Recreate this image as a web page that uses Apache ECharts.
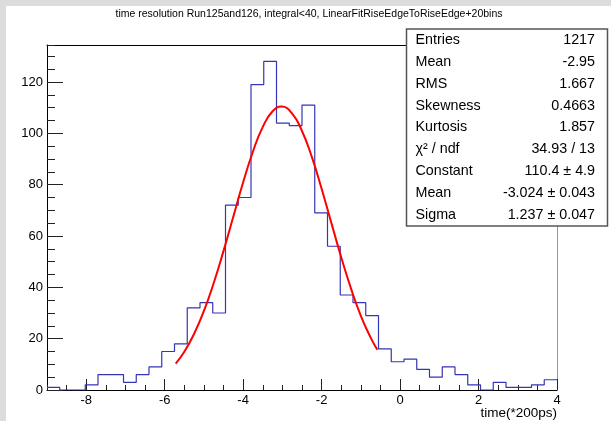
<!DOCTYPE html>
<html><head><meta charset="utf-8">
<script src="https://cdn.jsdelivr.net/npm/echarts@6/dist/echarts.min.js"></script>
<style>html,body{margin:0;padding:0;background:#fff}#c{width:611px;height:421px}</style>
</head><body><div id="c"></div>
<script>
const titleText = 'time resolution Run125and126, integral<40, LinearFitRiseEdgeToRiseEdge+20bins';
const xTitle = 'time(*200ps)';
const xMin = -9, xMax = 4, binWidth = 0.325;
const yMax = 134.4;
const counts = [1,0,0,2,6,6,3,6,9,15,18,32,34,30,72,75,119,128,104,103,111,69,56,37,34,29,16,11,12,8,5,9,6,2,0,3,1,1,2,4];
const fitX = [-5.72,-5.5,-5.25,-5,-4.75,-4.5,-4.25,-4,-3.75,-3.5,-3.25,-3.024,-2.75,-2.5,-2.25,-2,-1.75,-1.5,-1.25,-1,-0.75,-0.58];
const fitY = [10.3,14.9,21.9,30.8,41.7,54.2,67.6,80.9,92.9,102.5,108.6,110.4,107.7,100.9,90.8,78.4,65.0,51.7,39.5,28.9,20.4,15.7];
const statLabels = ['Entries','Mean','RMS','Skewness','Kurtosis','χ² / ndf','Constant','Mean','Sigma'];
const statValues = ['1217','-2.95','1.667','0.4663','1.857','34.93 / 13','110.4 ± 4.9','-3.024 ± 0.043','1.237 ± 0.047'];

const FONT = '"Liberation Sans", Arial, sans-serif';
const histData = counts.map((v, i) => [xMin + i * binWidth, v]);
histData.push([xMax, counts[counts.length - 1]]);
const fitData = fitX.map((x, i) => [x, fitY[i]]);

const chart = echarts.init(document.getElementById('c'), null, {renderer: 'canvas'});

const box = {x: 406.5, y: 29, w: 201, h: 197};
const rowH = box.h / statLabels.length;
const graphics = [
  {type: 'rect', shape: {x: 0, y: 0, width: 611, height: 6}, style: {fill: '#dcdcdc'}, z: 0, silent: true},
  {type: 'rect', shape: {x: 0, y: 0, width: 6, height: 421}, style: {fill: '#dcdcdc'}, z: 0, silent: true},
  {type: 'text', x: 309, y: 14, style: {text: titleText, font: '10.5px ' + FONT, fill: '#000', align: 'center', verticalAlign: 'middle'}, z: 50},
  {type: 'text', x: 557, y: 413, style: {text: xTitle, font: '13.5px ' + FONT, fill: '#000', align: 'right', verticalAlign: 'middle'}, z: 50},
  {type: 'rect', shape: {x: box.x, y: box.y, width: box.w, height: box.h}, style: {fill: '#fff', stroke: '#555', lineWidth: 1.5}, z: 100}
];
statLabels.forEach((lab, i) => {
  const cy = box.y + rowH * (i + 0.5);
  graphics.push({type: 'text', x: box.x + 9, y: cy, style: {text: lab, font: '14.3px ' + FONT, fill: '#000', align: 'left', verticalAlign: 'middle'}, z: 101});
  graphics.push({type: 'text', x: box.x + box.w - 12.5, y: cy, style: {text: statValues[i], font: '14.3px ' + FONT, fill: '#000', align: 'right', verticalAlign: 'middle'}, z: 101});
});

const noSplit = {show: false};
chart.setOption({
  animation: false,
  backgroundColor: '#fff',
  grid: {left: 47, top: 45, right: 54, bottom: 31, containLabel: false},
  xAxis: [
    {type: 'value', min: xMin, max: xMax, splitNumber: 6, position: 'bottom',
     axisLine: {show: true, onZero: false, lineStyle: {color: '#000', width: 1}},
     axisTick: {show: true, inside: true, length: 11, lineStyle: {color: '#222'}},
     axisLabel: {showMinLabel: false, fontSize: 13, fontFamily: FONT, color: '#000', margin: 4},
     splitLine: noSplit},
    {type: 'value', min: xMin, max: xMax, interval: 0.5, position: 'bottom',
     axisLine: {show: false, onZero: false},
     axisTick: {show: true, inside: true, length: 5, lineStyle: {color: '#222'}},
     axisLabel: {show: false}, splitLine: noSplit},
    {type: 'value', min: xMin, max: xMax, position: 'top',
     axisLine: {show: true, onZero: false, lineStyle: {color: '#000', width: 1}},
     axisTick: {show: false}, axisLabel: {show: false}, splitLine: noSplit}
  ],
  yAxis: [
    {type: 'value', min: 0, max: yMax, interval: 20, position: 'left',
     axisLine: {show: true, onZero: false, lineStyle: {color: '#000', width: 1}},
     axisTick: {show: true, inside: true, length: 16, lineStyle: {color: '#222'}},
     axisLabel: {showMaxLabel: false, fontSize: 13, fontFamily: FONT, color: '#000', margin: 4},
     splitLine: noSplit},
    {type: 'value', min: 0, max: yMax, interval: 5, position: 'left',
     axisLine: {show: false, onZero: false},
     axisTick: {show: true, inside: true, length: 8, lineStyle: {color: '#222'}},
     axisLabel: {show: false}, splitLine: noSplit},
    {type: 'value', min: 0, max: yMax, position: 'right',
     axisLine: {show: true, onZero: false, lineStyle: {color: '#999', width: 1}},
     axisTick: {show: false}, axisLabel: {show: false}, splitLine: noSplit}
  ],
  series: [
    {type: 'line', xAxisIndex: 0, yAxisIndex: 0, step: 'end', data: histData, symbol: 'none',
     lineStyle: {color: '#3535b5', width: 1.2}, z: 3},
    {type: 'line', xAxisIndex: 0, yAxisIndex: 0, data: fitData, smooth: true, symbol: 'none',
     lineStyle: {color: '#ff0000', width: 2}, z: 4}
  ],
  graphic: graphics
});
</script>
</body></html>
